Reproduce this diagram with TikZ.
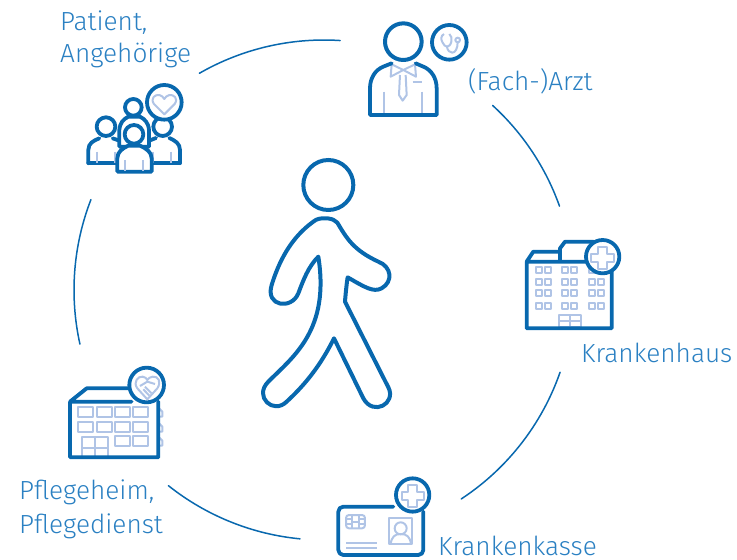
\documentclass[tikz,border=0pt]{standalone}
\usepackage{fontspec}
\setmainfont[UprightFont=* Light]{Fira Sans}
\definecolor{dk}{HTML}{0868AE}
\definecolor{lt}{HTML}{B0C4E6}
\definecolor{tx}{HTML}{2A80C2}
\tikzset{
 ring/.style={draw=dk,line width=1.5pt,line cap=round},
 dkl/.style={draw=dk,line width=3.8pt,line join=round,line cap=round},
 ltl/.style={draw=lt,line width=2pt,line join=round},
 label/.style={anchor=base west,inner sep=0pt,text=tx,font=\fontsize{26.2}{26.2}\selectfont},
 zoomed/.style={shift={(#1)},x=0.3333pt,y=-0.3333pt},
}
\newcommand{\Ringarc}[2]{\draw[ring] (324,290) ++(#1:250) arc[start angle=#1,end angle=#2,radius=250];}
\begin{document}
\begin{tikzpicture}[x=1pt,y=-1pt]
\useasboundingbox (0,0) rectangle (737,560);
% ring
\Ringarc{-86.3}{-119.9}
\Ringarc{-158.8}{-192.5}
\Ringarc{128.5}{95.5}
\Ringarc{56.7}{19.2}
\Ringarc{-19.6}{-47.6}
% labels
\node[label] (patient) at (60,30) {Patient,};
\node[label] (angeh) at (60,62) {Angehörige};
\node[label] (arzt) at (468,90) {(Fach-)Arzt};
\node[label] (khaus) at (581,362) {Krankenhaus};
\node[label] (kkasse) at (438,555) {Krankenkasse};
\node[label] (pheim) at (19,499) {Pflegeheim,};
\node[label] (pdienst) at (19,533) {Pflegedienst};
% walker
\begin{scope}[zoomed={250,150}]
\draw[dk,line width=4pt] (235,105) circle[x radius=75,y radius=75];
\draw[dk,line width=4pt,line join=round]
 (205,207) .. controls (220,203) and (250,203) .. (262,218)
 .. controls (290,265) and (310,300) .. (385,335)
 .. controls (425,350) and (430,395) .. (395,415)
 .. controls (370,428) and (345,412) .. (293,382)
 .. controls (290,400) and (287,430) .. (285,455)
 -- (415,712)
 .. controls (440,760) and (370,800) .. (340,745)
 -- (252,565)
 .. controls (215,640) and (170,700) .. (110,755)
 .. controls (70,795) and (10,740) .. (55,695)
 .. controls (130,620) and (240,540) .. (205,320)
 .. controls (175,350) and (160,390) .. (145,430)
 .. controls (125,480) and (45,470) .. (65,405)
 .. controls (85,340) and (120,265) .. (190,215)
 .. controls (195,211) and (200,208) .. (205,207) -- cycle;
\end{scope}
% family icon
\begin{scope}[zoomed={60,0}]
% side persons
\draw[dkl] (85,490) -- (360,490);
\draw[dkl] (85,490) -- (85,450) .. controls (85,430) and (100,422) .. (118,415) (158,415) -- (178,422);
\draw[dkl] (360,490) -- (360,450) .. controls (360,430) and (345,422) .. (328,414) (288,414) -- (268,422);
\draw[ltl] (110,455)--(110,488) (165,455)--(165,488) (278,455)--(278,488) (332,455)--(332,488);
\draw[dkl] (138,380) circle[x radius=28,y radius=28];
\draw[dkl] (308,380) circle[x radius=28,y radius=28];
% centre person
\draw[dkl,fill=white] (178,440) -- (178,390) .. controls (180,368) and (190,358) .. (205,350) -- (240,350) .. controls (255,358) and (265,368) .. (267,390) -- (267,440) -- cycle;
\draw[dkl,fill=white] (220,322) circle[x radius=25,y radius=25];
% front person
\draw[dkl,fill=white] (172,515) -- (172,475) .. controls (172,455) and (188,445) .. (205,437) -- (240,437) .. controls (257,445) and (275,455) .. (275,475) -- (275,515) -- cycle;
\draw[ltl] (195,480)--(195,513) (250,480)--(250,513);
\draw[dkl,fill=white] (222,403) circle[x radius=28,y radius=28];
% heart badge
\draw[dkl,fill=white] (313,307) circle[x radius=52,y radius=52];
\draw[ltl] (313,343) -- (282,312) .. controls (270,295) and (285,283) .. (298,285) .. controls (305,286) and (310,292) .. (313,297) .. controls (316,292) and (321,286) .. (328,285) .. controls (341,283) and (356,295) .. (344,312) -- cycle;
\end{scope}
% doctor icon
\begin{scope}[zoomed={350,10}]
\draw[ltl] (103,245)--(103,312) (215,245)--(215,312) (188,215)--(215,215);
\draw[ltl] (125,163)--(122,200)--(160,180)--(198,200)--(195,163)--(160,180)--cycle;
\draw[ltl] (150,195)--(147,255)--(158,272)--(170,255)--(167,195);
\draw[dkl,line width=4pt] (160,95) circle[x radius=55,y radius=55];
\draw[dkl] (125,160) -- (100,170) .. controls (75,180) and (60,205) .. (60,235) -- (60,315) -- (260,315) -- (260,235) .. controls (260,205) and (245,180) .. (220,170) -- (197,160);
\draw[dkl] (298,97) circle[x radius=52,y radius=52];
\draw[ltl] (282,72) .. controls (272,78) and (272,88) .. (278,98) .. controls (281,105) and (286,110) .. (291,110) .. controls (296,110) and (302,105) .. (304,95) .. controls (306,85) and (305,78) .. (298,72);
\draw[ltl] (291,110) .. controls (292,122) and (300,128) .. (307,128) .. controls (316,128) and (323,115) .. (323,97);
\draw[ltl] (323,90) circle[x radius=7,y radius=7];
\end{scope}
% hospital icon
\begin{scope}[zoomed={510,230}]
\foreach \yy in {120,155,190,227}
 \foreach \xx in {87,115,165,193,245,272}
  \draw[ltl] (\xx-9,\yy-9) rectangle (\xx+9,\yy+9);
\draw[ltl] (147,290) rectangle (213,255) (147,272)--(213,272) (180,255)--(180,290);
\draw[dkl] (50,95) -- (50,295) -- (305,295) -- (305,120) (50,95) -- (235,95) (50,95) -- (70,65) -- (150,65) (150,95) -- (150,55) -- (165,35) -- (250,35);
\draw[dkl,fill=white] (278,80) circle[x radius=50,y radius=50];
\draw[ltl] (265,50)--(290,50)--(290,72)--(312,72)--(312,97)--(290,97)--(290,118)--(265,118)--(265,97)--(243,97)--(243,72)--(265,72)--cycle;
\end{scope}
% card icon
\begin{scope}[zoomed={330,470}]
\draw[ltl,rounded corners=3pt] (48,135) rectangle (105,175);
\draw[ltl] (48,148)--(65,148) (48,162)--(65,162) (88,148)--(105,148) (88,162)--(105,162) (65,135)--(65,175) (88,135)--(88,175);
\draw[ltl] (65,155)--(88,155);
\draw[ltl] (178,143) rectangle (247,222);
\draw[ltl] (212,175) circle[x radius=18,y radius=18];
\draw[ltl] (182,222) .. controls (185,200) and (195,192) .. (212,192) .. controls (230,192) and (240,200) .. (243,222);
\draw[ltl] (48,220)--(140,220) (48,233)--(140,233);
\draw[dkl,rounded corners=5pt] (190,110) -- (25,110) -- (25,255) -- (280,255) -- (280,125);
\draw[dkl,fill=white] (248,75) circle[x radius=50,y radius=50];
\draw[ltl] (235,45)--(260,45)--(260,65)--(282,65)--(282,90)--(260,90)--(260,110)--(235,110)--(235,90)--(215,90)--(215,65)--(235,65)--cycle;
\end{scope}
% nursing home icon
\begin{scope}[zoomed={60,360}]
\foreach \yy in {142,185}
 \foreach \xx in {55,110,165,220}
  \draw[ltl] (\xx,\yy) rectangle (\xx+45,\yy+30);
\foreach \xx in {165,220}
  \draw[ltl] (\xx,228) rectangle (\xx+45,258);
\draw[ltl] (65,290) -- (65,230) -- (145,230) -- (145,290) (105,230)--(105,290) (65,265)--(145,265);
\foreach \yy in {145,190,232}
 \draw[ltl] (297,\yy+25)--(307,\yy+25)--(307,\yy+10)--(297,\yy);
\draw[dkl] (215,125) -- (30,125) -- (30,292) -- (295,292) -- (295,125) (30,125) -- (80,85) -- (205,85);
\draw[dkl,fill=white] (260,75) circle[x radius=52,y radius=52];
\draw[ltl] (262,118) -- (232,85) .. controls (218,65) and (235,48) .. (248,50) .. controls (255,51) and (260,55) .. (262,60) .. controls (265,55) and (270,51) .. (278,50) .. controls (295,48) and (305,65) .. (292,85) -- cycle;
\draw[ltl] (240,78) -- (262,65) -- (285,72) (255,80) -- (275,100) (250,88)--(268,107);
\end{scope}
\end{tikzpicture}
\end{document}
